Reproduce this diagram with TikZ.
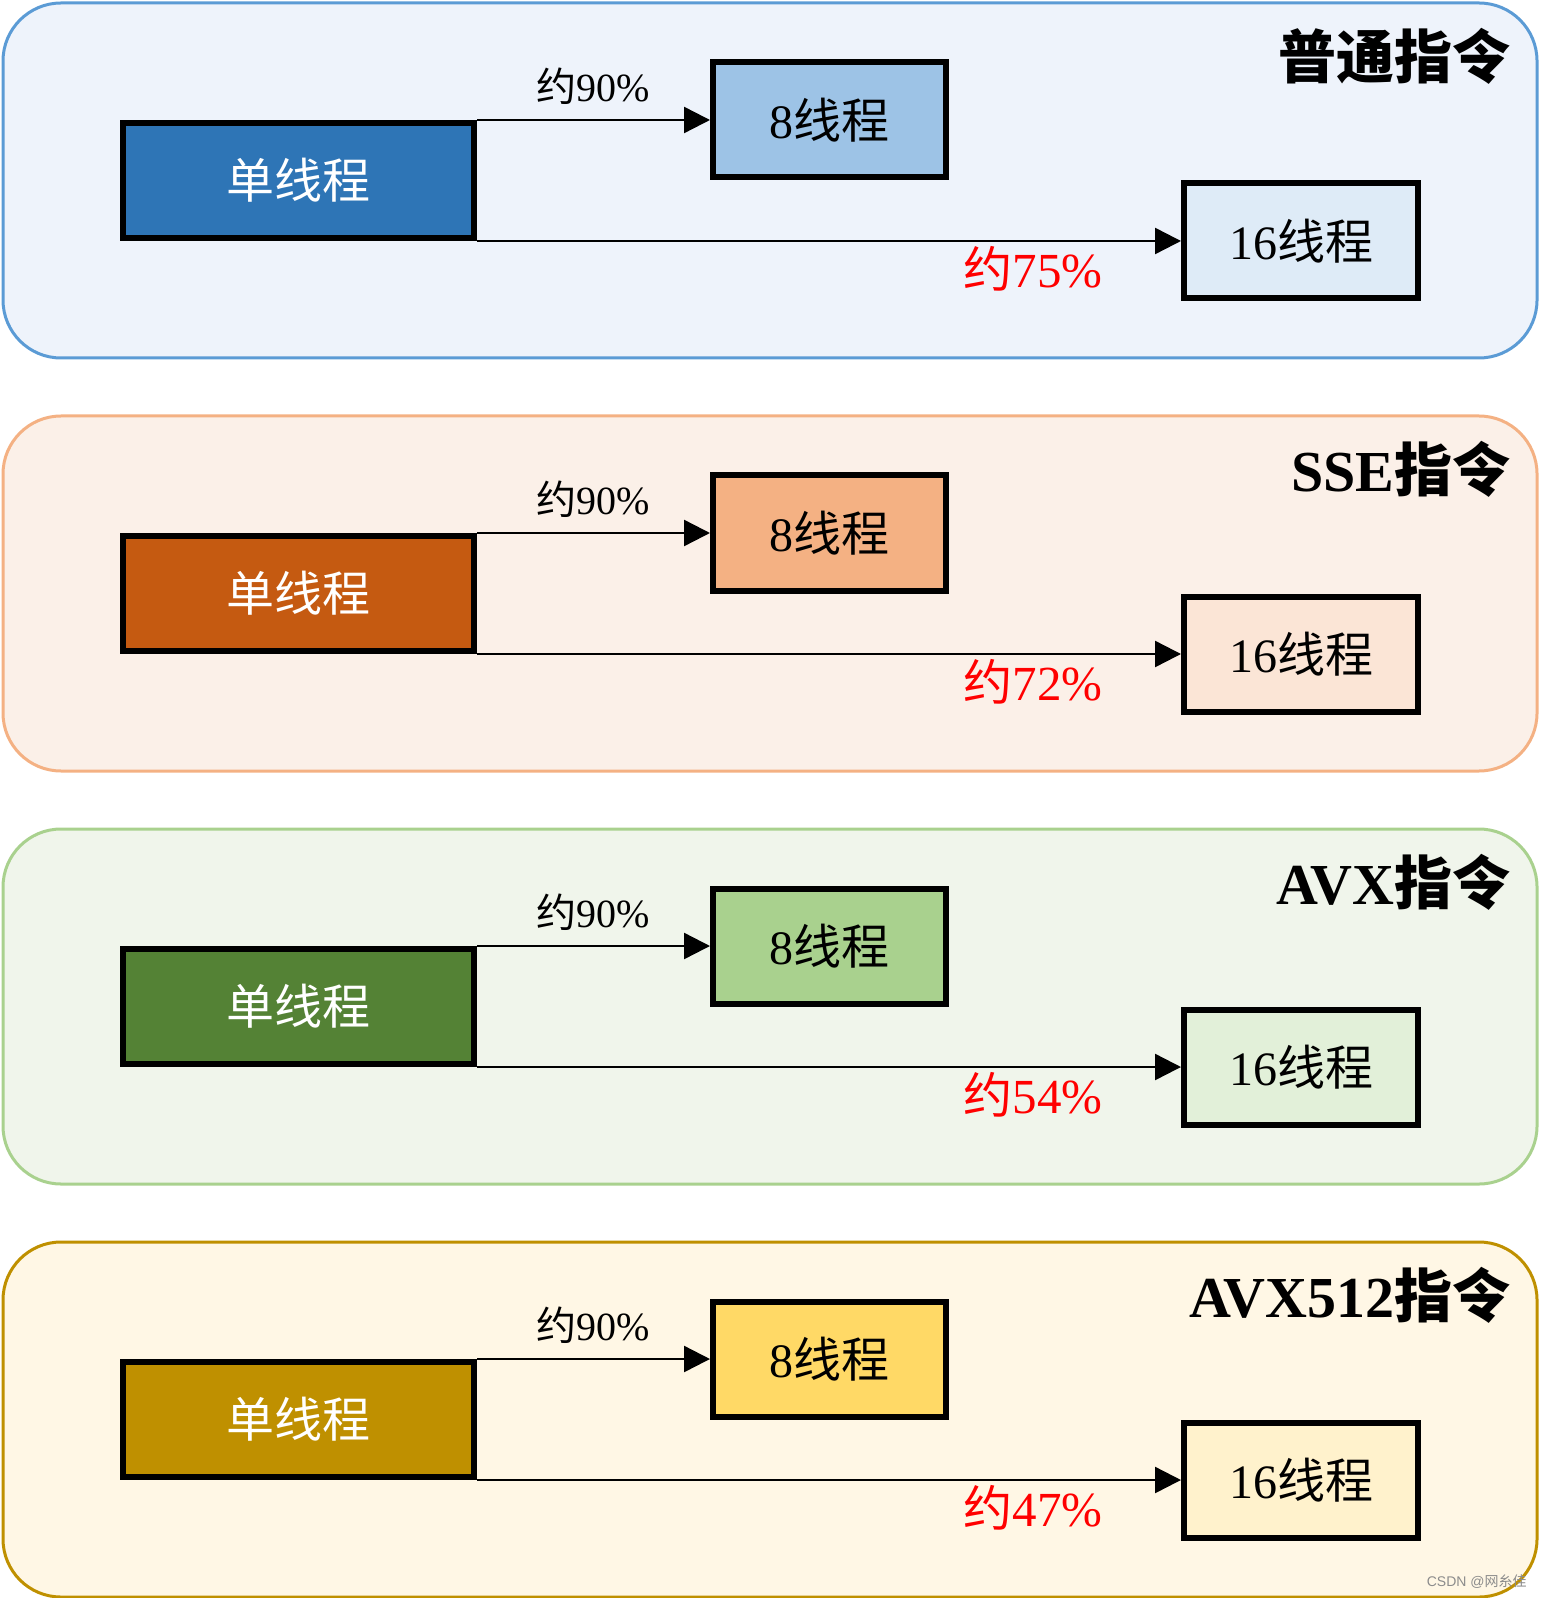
\documentclass[tikz,border=0pt]{standalone}
\usepackage{fontspec}
\setmainfont{Liberation Serif}
\newfontfamily\cjk{Noto Sans CJK SC}
\newfontfamily\wmfont{Liberation Sans}
\newcommand\zh[1]{{\cjk #1}}
\usepackage{tikz}
\usetikzlibrary{arrows.meta,positioning}

% panel colours
\definecolor{blueline}{HTML}{5B9BD5}
\definecolor{bluebg}{HTML}{EEF3FB}
\definecolor{blueA}{HTML}{2E75B6}
\definecolor{blueB}{HTML}{9DC3E6}
\definecolor{blueC}{HTML}{DEEBF7}
\definecolor{orangeline}{HTML}{F4B183}
\definecolor{orangebg}{HTML}{FBF0E8}
\definecolor{orangeA}{HTML}{C55A11}
\definecolor{orangeB}{HTML}{F4B183}
\definecolor{orangeC}{HTML}{FBE5D6}
\definecolor{greenline}{HTML}{A9D18E}
\definecolor{greenbg}{HTML}{F0F5EB}
\definecolor{greenA}{HTML}{548235}
\definecolor{greenB}{HTML}{A9D18E}
\definecolor{greenC}{HTML}{E2F0D9}
\definecolor{goldline}{HTML}{BF9000}
\definecolor{goldbg}{HTML}{FFF7E5}
\definecolor{goldA}{HTML}{BF9000}
\definecolor{goldB}{HTML}{FFD966}
\definecolor{goldC}{HTML}{FFF2CC}
\definecolor{ratered}{HTML}{FF0000}

\tikzset{
  panel/.style={draw=#1, line width=1.5pt, rounded corners=29pt},
  box/.style={draw=black, line width=3pt, minimum height=57.5pt, inner sep=0pt,
    font=\fontsize{24}{28}\selectfont},
  onebox/.style={box, fill=#1, text=white, minimum width=175.5pt},
  eightbox/.style={box, fill=#1, minimum width=116.5pt},
  sixteenbox/.style={box, fill=#1, minimum width=117pt},
  link/.style={-{Triangle[length=13pt,width=13pt]}, line width=1.2pt},
  ratetext/.style={font=\fontsize{20}{24}\selectfont, inner sep=3pt, yshift=4pt},
  redtext/.style={text=ratered, font=\fontsize{24.5}{28}\selectfont, inner sep=2pt},
  headtext/.style={font=\bfseries\fontsize{29}{33}\selectfont, anchor=east, inner sep=0pt}
}

\begin{document}
\begin{tikzpicture}[x=0.5pt,y=-0.5pt]
\useasboundingbox (0,0) rectangle (1542,1598);

% 普通指令
\draw[panel=blueline, fill=bluebg] (3,3) rectangle (1537,358);
\node[headtext] (t1) at (1511,56) {\zh{普通指令}};
\node[onebox=blueA] (s1) at (298.5,180.5) {\zh{单线程}};
\node[eightbox=blueB] (e1) at (829.5,120) {8\zh{线程}};
\node[sixteenbox=blueC] (x1) at (1301,241) {16\zh{线程}};
\draw[link] (s1.north east) -- (e1.west) node[midway,above,ratetext] (r1) {\zh{约}90\%};
\draw[link] (s1.south east) -- (x1.west) node[pos=0.79,below,redtext] (q1) {\zh{约}75\%};

% SSE指令
\begin{scope}[yshift=-206.5pt]
\draw[panel=orangeline, fill=orangebg] (3,3) rectangle (1537,358);
\node[headtext] (t2) at (1511,56) {SSE\zh{指令}};
\node[onebox=orangeA] (s2) at (298.5,180.5) {\zh{单线程}};
\node[eightbox=orangeB] (e2) at (829.5,120) {8\zh{线程}};
\node[sixteenbox=orangeC] (x2) at (1301,241) {16\zh{线程}};
\draw[link] (s2.north east) -- (e2.west) node[midway,above,ratetext] (r2) {\zh{约}90\%};
\draw[link] (s2.south east) -- (x2.west) node[pos=0.79,below,redtext] (q2) {\zh{约}72\%};
\end{scope}

% AVX指令
\begin{scope}[yshift=-413pt]
\draw[panel=greenline, fill=greenbg] (3,3) rectangle (1537,358);
\node[headtext] (t3) at (1511,56) {AVX\zh{指令}};
\node[onebox=greenA] (s3) at (298.5,180.5) {\zh{单线程}};
\node[eightbox=greenB] (e3) at (829.5,120) {8\zh{线程}};
\node[sixteenbox=greenC] (x3) at (1301,241) {16\zh{线程}};
\draw[link] (s3.north east) -- (e3.west) node[midway,above,ratetext] (r3) {\zh{约}90\%};
\draw[link] (s3.south east) -- (x3.west) node[pos=0.79,below,redtext] (q3) {\zh{约}54\%};
\end{scope}

% AVX512指令
\begin{scope}[yshift=-619.5pt]
\draw[panel=goldline, fill=goldbg] (3,3) rectangle (1537,358);
\node[headtext] (t4) at (1511,56) {AVX512\zh{指令}};
\node[onebox=goldA] (s4) at (298.5,180.5) {\zh{单线程}};
\node[eightbox=goldB] (e4) at (829.5,120) {8\zh{线程}};
\node[sixteenbox=goldC] (x4) at (1301,241) {16\zh{线程}};
\draw[link] (s4.north east) -- (e4.west) node[midway,above,ratetext] (r4) {\zh{约}90\%};
\draw[link] (s4.south east) -- (x4.west) node[pos=0.79,below,redtext] (q4) {\zh{约}47\%};
\end{scope}

% watermark
\node[anchor=east, text=black!45, font=\wmfont\fontsize{7}{8}\selectfont, inner sep=0pt] (wm) at (1527,1582) {CSDN @\zh{网糸佳}};

\end{tikzpicture}
\end{document}
